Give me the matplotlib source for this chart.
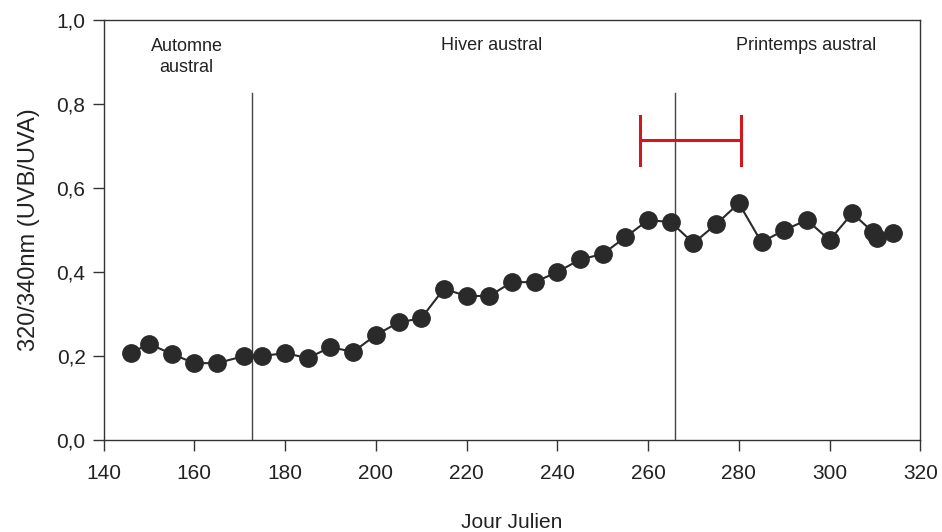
import matplotlib
matplotlib.use("Agg")
import matplotlib.pyplot as plt
from matplotlib.ticker import FuncFormatter

plt.rcParams['font.family'] = ['Liberation Sans', 'DejaVu Sans']

# jour julien / ratio 320/340nm
jours = [146, 150, 155, 160, 165, 171, 175, 180, 185, 190, 195, 200, 205, 210,
         215, 220, 225, 230, 235, 240, 245, 250, 255, 260, 265, 270, 275, 280,
         285, 290, 295, 300, 305, 309.6, 310.5, 314]
ratio = [0.207, 0.229, 0.205, 0.183, 0.183, 0.20, 0.20, 0.207, 0.195, 0.221,
         0.21, 0.25, 0.28, 0.29, 0.36, 0.343, 0.343, 0.376, 0.376, 0.40, 0.43,
         0.443, 0.483, 0.524, 0.519, 0.469, 0.514, 0.564, 0.471, 0.50, 0.524,
         0.476, 0.540, 0.495, 0.48, 0.493]

# limites des saisons
limites = [172.6, 266.0]
haut_limites = 0.826

# barre rouge
barre_x = (258.2, 280.5)
barre_y = 0.714

saisons = [("Automne\naustral", 158.3, 0.913),
           ("Hiver austral", 225.6, 0.94),
           ("Printemps austral", 294.9, 0.94)]

fig = plt.figure(figsize=(9.42, 5.32), dpi=100)
ax = fig.add_axes([0.110, 0.173, 0.867, 0.789])

ax.plot(jours, ratio, '-o', color='#2a2a2a', lw=1.5, markersize=12.5, zorder=3)

for xl in limites:
    ax.plot([xl, xl], [0, haut_limites], color='#444444', lw=1.0, zorder=2)

ax.plot(barre_x, [barre_y, barre_y], color='#d0191e', lw=2.2)
for xb in barre_x:
    ax.plot([xb, xb], [barre_y - 0.058, barre_y + 0.058], color='#d0191e', lw=2.2)

for txt, xt, yt in saisons:
    ax.text(xt, yt, txt, ha='center', va='center',
            fontsize=13, color='#222222', linespacing=1.3)

ax.set_xlim(140, 320)
ax.set_ylim(0, 1.0)
ax.set_xticks(range(140, 321, 20))
ax.set_yticks([0, 0.2, 0.4, 0.6, 0.8, 1.0])
ax.yaxis.set_major_formatter(FuncFormatter(lambda v, p: f"{v:.1f}".replace('.', ',')))
ax.tick_params(direction='out', length=8, width=1.0, labelsize=15, color='#333333',
               labelcolor='#222222')
ax.tick_params(axis='x', pad=9)
ax.tick_params(axis='y', pad=5)
for s in ax.spines.values():
    s.set_color('#333333')
    s.set_linewidth(1.0)

ax.set_xlabel("Jour Julien", fontsize=15, labelpad=22, color='#222222')
ax.set_ylabel("320/340nm (UVB/UVA)", fontsize=17, labelpad=12, color='#222222')

fig.savefig("out.png", dpi=100)
